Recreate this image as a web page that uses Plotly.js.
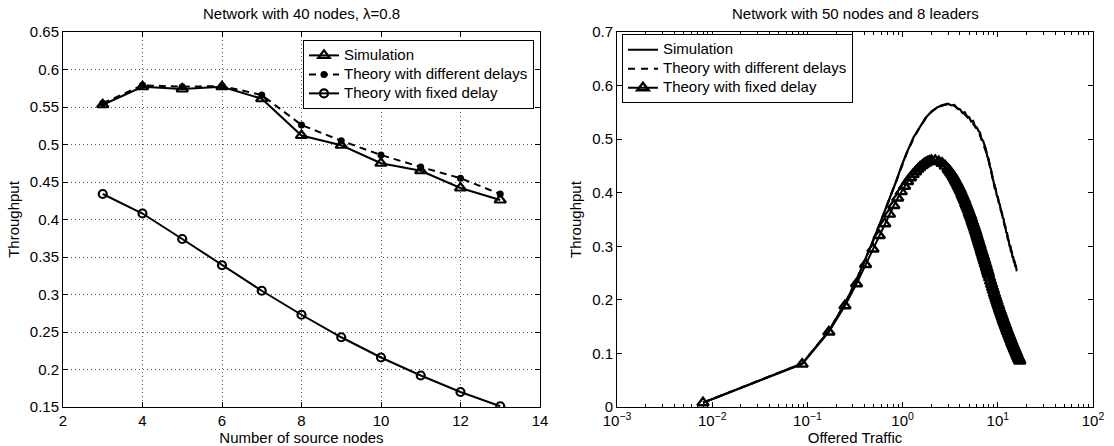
<!DOCTYPE html>
<html>
<head>
<meta charset="utf-8">
<script src="https://cdn.plot.ly/plotly-3.0.1.min.js"></script>
<style>html,body{margin:0;padding:0;background:#fff;}#chart{width:1114px;height:446px;}</style>
</head>
<body>
<div id="chart"></div>
<script>
// ---------- Left panel data ----------
const sourceNodes = [3, 4, 5, 6, 7, 8, 9, 10, 11, 12, 13];
const simLeft   = [0.553, 0.577, 0.574, 0.577, 0.561, 0.512, 0.499, 0.475, 0.465, 0.442, 0.426];
const diffLeft  = [0.555, 0.579, 0.577, 0.578, 0.566, 0.526, 0.505, 0.486, 0.470, 0.455, 0.434];
const fixedLeft = [0.434, 0.408, 0.374, 0.339, 0.305, 0.273, 0.243, 0.216, 0.192, 0.170, 0.151];

const leftXTicks = [2, 4, 6, 8, 10, 12, 14];
const leftXTickText = ['2', '4', '6', '8', '10', '12', '14'];
const leftYTicks = [0.15, 0.2, 0.25, 0.3, 0.35, 0.4, 0.45, 0.5, 0.55, 0.6, 0.65];
const leftYTickText = ['0.15', '0.2', '0.25', '0.3', '0.35', '0.4', '0.45', '0.5', '0.55', '0.6', '0.65'];

// ---------- Right panel data ----------
const simTrafficX = [0.008, 0.088, 0.168, 0.248, 0.328, 0.408, 0.488, 0.6, 0.73, 0.85, 0.97, 1.1, 1.3, 1.5, 1.75, 2.0, 2.3, 2.6,
  3.0, 3.25, 3.5, 3.75, 4.0, 4.25, 4.5, 4.75, 5.0, 5.25, 5.5, 5.75, 6.0, 6.25, 6.5, 6.75, 7.0, 7.25, 7.5, 7.75, 8.0, 8.25, 8.5, 8.75,
  9.0, 9.25, 9.5, 9.75, 10.0, 10.25, 10.5, 10.75, 11.0, 11.25, 11.5, 11.75, 12.0, 12.25, 12.5, 12.75, 13.0, 13.25, 13.5, 13.75,
  14.0, 14.25, 14.5, 14.75, 15.0, 15.25, 15.5, 15.75, 16.0];
const simTrafficY = [0.008, 0.081, 0.142, 0.193, 0.237, 0.276, 0.310, 0.350, 0.388, 0.420, 0.449, 0.474, 0.503, 0.522, 0.540, 0.551, 0.559, 0.563,
  0.566, 0.563, 0.564, 0.557, 0.556, 0.549, 0.550, 0.542, 0.541, 0.533, 0.534, 0.524, 0.522, 0.516, 0.512, 0.500, 0.497, 0.489, 0.481, 0.468, 0.463, 0.449, 0.443, 0.428,
  0.422, 0.409, 0.407, 0.395, 0.392, 0.381, 0.378, 0.367, 0.364, 0.354, 0.351, 0.339, 0.337, 0.326, 0.325, 0.313, 0.311, 0.301, 0.301, 0.290,
  0.289, 0.280, 0.280, 0.271, 0.270, 0.263, 0.263, 0.256, 0.257];

const diffTrafficX = [0.008, 0.088, 0.168, 0.248, 0.328, 0.408, 0.488, 0.6, 0.73, 0.85, 0.97, 1.1, 1.3, 1.5, 1.75, 2.0, 2.3, 2.6, 2.9, 3.2, 3.5, 3.8, 4.1, 4.4, 4.7, 5.0, 5.5, 6.0, 6.5, 7.0, 7.5, 8.0, 8.5, 9.0, 9.5, 10.0, 10.5, 11.0, 11.5, 12.0, 12.5, 13.0, 13.5, 14.0, 14.5, 15.0, 15.5, 16.0];
const diffTrafficY = [0.008, 0.081, 0.142, 0.193, 0.237, 0.276, 0.310, 0.350, 0.388, 0.420, 0.447, 0.473, 0.501, 0.521, 0.539, 0.551, 0.559, 0.563, 0.565, 0.565, 0.562, 0.558, 0.553, 0.548, 0.543, 0.538, 0.529, 0.519, 0.507, 0.493, 0.477, 0.460, 0.440, 0.420, 0.404, 0.390, 0.376, 0.363, 0.349, 0.335, 0.322, 0.310, 0.299, 0.288, 0.278, 0.269, 0.262, 0.256];

const fixedTrafficX = [0.008, 0.088, 0.168, 0.248, 0.328, 0.408, 0.488, 0.568, 0.648, 0.728, 0.808, 0.888, 0.968, 1.048, 1.128, 1.208, 1.288, 1.368, 1.448, 1.528, 1.608, 1.688, 1.768, 1.848, 1.928, 2.008,
  2.2, 2.4, 2.6, 2.8, 3.0, 3.1, 3.2, 3.3, 3.4, 3.5, 3.6, 3.7, 3.8, 3.9, 4.0, 4.1, 4.2, 4.3, 4.4, 4.5, 4.6, 4.7, 4.8, 4.9, 5.0, 5.1, 5.2, 5.3, 5.4, 5.5, 5.6, 5.7, 5.8, 5.9,
  6.0, 6.1, 6.2, 6.3, 6.4, 6.5, 6.6, 6.7, 6.8, 6.9, 7.0, 7.1, 7.2, 7.3, 7.4, 7.5, 7.6, 7.7, 7.8, 7.9, 8.0,
  8.2, 8.4, 8.6, 8.8, 9.0, 9.2, 9.4, 9.6, 9.8, 10.0, 10.2, 10.4, 10.6, 10.8, 11.0, 11.2, 11.4, 11.6, 11.8, 12.0, 12.2, 12.4, 12.6, 12.8, 13.0, 13.2, 13.4, 13.6, 13.8, 14.0, 14.2, 14.4, 14.6, 14.8, 15.0, 15.2, 15.4, 15.6, 15.8, 16.0, 16.2, 16.4, 16.6, 16.8, 17.0];
const fixedTrafficY = [0.008, 0.080, 0.140, 0.189, 0.230, 0.266, 0.295, 0.320, 0.342, 0.360, 0.376, 0.390, 0.402, 0.412, 0.421, 0.428, 0.434, 0.439, 0.444, 0.448, 0.451, 0.454, 0.456, 0.458, 0.459, 0.460,
  0.460, 0.458, 0.455, 0.450, 0.444, 0.441, 0.437, 0.434, 0.430, 0.426, 0.422, 0.418, 0.414, 0.410, 0.406, 0.402, 0.397, 0.393, 0.389, 0.385, 0.380, 0.376, 0.372, 0.368, 0.363, 0.359, 0.355, 0.351, 0.346, 0.342, 0.338, 0.334, 0.330, 0.326,
  0.321, 0.317, 0.313, 0.309, 0.305, 0.301, 0.297, 0.293, 0.289, 0.286, 0.282, 0.279, 0.275, 0.272, 0.268, 0.265, 0.261, 0.258, 0.254, 0.251, 0.247,
  0.241, 0.235, 0.229, 0.223, 0.218, 0.212, 0.207, 0.202, 0.197, 0.192, 0.188, 0.183, 0.179, 0.175, 0.171, 0.167, 0.163, 0.159, 0.156, 0.152, 0.149, 0.145, 0.142, 0.139, 0.136, 0.133, 0.130, 0.127, 0.124, 0.121, 0.118, 0.116, 0.113, 0.111, 0.108, 0.106, 0.103, 0.101, 0.099, 0.096, 0.094, 0.092, 0.090, 0.088, 0.086];

const rightXTicks = [0.001, 0.01, 0.1, 1, 10, 100];
const rightXTickText = ['10<sup>\u22123</sup>', '10<sup>\u22122</sup>', '10<sup>\u22121</sup>', '10<sup>0</sup>', '10<sup>1</sup>', '10<sup>2</sup>'];
const rightYTicks = [0, 0.1, 0.2, 0.3, 0.4, 0.5, 0.6, 0.7];
const rightYTickText = ['0', '0.1', '0.2', '0.3', '0.4', '0.5', '0.6', '0.7'];

const legendNames = ['Simulation', 'Theory with different delays', 'Theory with fixed delay'];
const panelTitles = ['Network with 40 nodes, \u03bb=0.8', 'Network with 50 nodes and 8 leaders'];
const axisTitles = ['Number of source nodes', 'Offered Traffic', 'Throughput'];

// ---------- Build ----------
const FONT = 'Liberation Sans, Arial, Helvetica, sans-serif';
const K = '#000';
const FS = 15;
// legend text drawn at 15px while the legend row height follows a 12px base font (compact rows as in the reference)
const lname = s => '<span style="font-size:15px">' + s + '</span>';

const traces = [
  {x: sourceNodes, y: simLeft, name: lname(legendNames[0]), xaxis: 'x', yaxis: 'y', legend: 'legend', mode: 'lines+markers',
   line: {color: K, width: 2}, marker: {symbol: 'triangle-up-open', size: 10, color: K, line: {width: 2.2, color: K}}},
  {x: sourceNodes, y: diffLeft, name: lname(legendNames[1]), xaxis: 'x', yaxis: 'y', legend: 'legend', mode: 'lines+markers',
   line: {color: K, width: 2, dash: '7px,5px'}, marker: {symbol: 'circle', size: 7, color: K}},
  {x: sourceNodes, y: fixedLeft, name: lname(legendNames[2]), xaxis: 'x', yaxis: 'y', legend: 'legend', mode: 'lines+markers',
   line: {color: K, width: 2}, marker: {symbol: 'circle-open', size: 8, color: K, line: {width: 2.2, color: K}}},

  {x: simTrafficX, y: simTrafficY, name: lname(legendNames[0]), xaxis: 'x2', yaxis: 'y2', legend: 'legend2', mode: 'lines',
   line: {color: K, width: 2.2}},
  {x: diffTrafficX, y: diffTrafficY, name: lname(legendNames[1]), xaxis: 'x2', yaxis: 'y2', legend: 'legend2', mode: 'lines',
   line: {color: K, width: 2.2, dash: '7px,6px'}},
  {x: fixedTrafficX, y: fixedTrafficY, name: lname(legendNames[2]), xaxis: 'x2', yaxis: 'y2', legend: 'legend2', mode: 'lines+markers',
   line: {color: K, width: 2}, marker: {symbol: 'triangle-up-open', size: 10, color: K, line: {width: 2.4, color: K}}}
];

const baseAxis = {
  showline: true, linecolor: K, linewidth: 1, mirror: 'ticks', ticks: 'inside', ticklen: 5, tickcolor: K,
  zeroline: false, tickfont: {family: FONT, size: FS, color: K}, automargin: false, fixedrange: true
};

const M = {l: 63, r: 21, t: 32, b: 39};
const titleFont = {family: FONT, size: FS, color: K};

const layout = {
  width: 1114, height: 446, margin: M, paper_bgcolor: '#fff', plot_bgcolor: '#fff',
  font: {family: FONT, size: FS, color: K},
  showlegend: true,
  xaxis: Object.assign({}, baseAxis, {domain: [0, 0.4631], range: [2, 14], tickmode: 'array', tickvals: leftXTicks, ticktext: leftXTickText,
    showgrid: true, gridcolor: '#555', griddash: '1px,3px', gridwidth: 1,
    title: {text: axisTitles[0], font: titleFont, standoff: 4}}),
  yaxis: Object.assign({}, baseAxis, {domain: [0, 1], range: [0.15, 0.65], tickmode: 'array', tickvals: leftYTicks, ticktext: leftYTickText,
    showgrid: true, gridcolor: '#555', griddash: '1px,3px', gridwidth: 1,
    title: {text: axisTitles[2], font: titleFont, standoff: 6}}),
  xaxis2: Object.assign({}, baseAxis, {domain: [0.5379, 1], type: 'log', range: [-3, 2], tickmode: 'array', tickvals: rightXTicks, ticktext: rightXTickText,
    showgrid: false, anchor: 'y2',
    minor: {ticks: 'inside', ticklen: 3, tickcolor: K, dtick: 'D1', showgrid: false},
    title: {text: axisTitles[1], font: titleFont, standoff: 2}}),
  yaxis2: Object.assign({}, baseAxis, {domain: [0, 1], range: [0, 0.7], tickmode: 'array', tickvals: rightYTicks, ticktext: rightYTickText,
    showgrid: false, anchor: 'x2',
    title: {text: axisTitles[2], font: titleFont, standoff: 6}}),
  legend: {x: 0.233, y: 0.979, xanchor: 'left', yanchor: 'top', bgcolor: '#fff', bordercolor: K, borderwidth: 1,
    font: {family: FONT, size: 12, color: K}, tracegroupgap: 0, itemwidth: 30},
  legend2: {x: 0.5427, y: 0.994, xanchor: 'left', yanchor: 'top', bgcolor: '#fff', bordercolor: K, borderwidth: 1,
    font: {family: FONT, size: 12, color: K}, tracegroupgap: 0, itemwidth: 30},
  annotations: [
    {text: panelTitles[0], xref: 'paper', yref: 'paper', x: 0.4631 / 2, y: 1.05, xanchor: 'center', yanchor: 'middle', showarrow: false,
     font: {family: FONT, size: 15, color: K}},
    {text: panelTitles[1], xref: 'paper', yref: 'paper', x: (0.5379 + 1) / 2, y: 1.05, xanchor: 'center', yanchor: 'middle', showarrow: false,
     font: {family: FONT, size: 15, color: K}}
  ]
};

Plotly.newPlot('chart', traces, layout, {displayModeBar: false, staticPlot: true});
</script>
</body>
</html>
